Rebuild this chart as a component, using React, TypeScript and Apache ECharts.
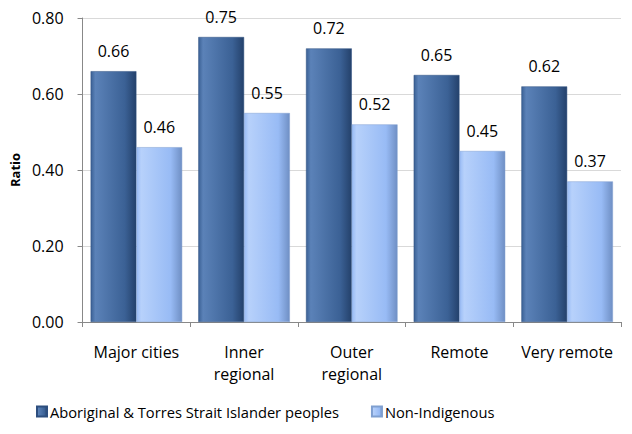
import React, { useEffect, useRef } from "react";
import * as echarts from "echarts";

const categories = ["Major cities", "Inner\nregional", "Outer\nregional", "Remote", "Very remote"];
const indigenous = [0.66, 0.75, 0.72, 0.65, 0.62];
const nonIndigenous = [0.46, 0.55, 0.52, 0.45, 0.37];
const seriesNames = ["Aboriginal & Torres Strait Islander peoples", "Non-Indigenous"];

const FONT = "'Open Sans', Lato, sans-serif";

const grad = (edge: string, mid: string, hi: string) =>
  new echarts.graphic.LinearGradient(0, 0, 1, 0, [
    { offset: 0, color: mid },
    { offset: 0.1, color: hi },
    { offset: 0.75, color: mid },
    { offset: 1, color: edge },
  ]);

export default function App() {
  const ref = useRef<HTMLDivElement>(null);
  useEffect(() => {
    if (!ref.current) return;
    const chart = echarts.init(ref.current, undefined, { renderer: "svg" });
    const label = {
      show: true,
      position: "top" as const,
      distance: 12,
      fontFamily: FONT,
      fontSize: 16,
      color: "#000",
      formatter: (p: any) => p.value.toFixed(2),
    };
    chart.setOption({
      animation: false,
      backgroundColor: "#fff",
      grid: { left: 81, right: 11, top: 18, bottom: 112, containLabel: false },
      legend: {
        top: 399,
        left: 31,
        icon: "rect",
        itemWidth: 10,
        itemHeight: 10,
        itemGap: 32,
        textStyle: { fontFamily: FONT, fontSize: 14.7, color: "#000", padding: [0, 0, 0, -2] },
        data: seriesNames,
      },
      xAxis: {
        type: "category",
        data: categories,
        axisLine: { lineStyle: { color: "#888" } },
        axisTick: { show: true, length: 5, lineStyle: { color: "#888" } },
        axisLabel: {
          interval: 0,
          fontFamily: FONT,
          fontSize: 16,
          color: "#000",
          margin: 19,
          lineHeight: 22,
        },
      },
      yAxis: {
        type: "value",
        min: 0,
        max: 0.8,
        interval: 0.2,
        name: "Ratio",
        nameLocation: "middle",
        nameGap: 60,
        nameTextStyle: { fontFamily: FONT, fontSize: 13, fontWeight: "bold", color: "#000" },
        axisLine: { show: true, lineStyle: { color: "#888" } },
        axisTick: { show: true, length: 5, lineStyle: { color: "#888" } },
        splitLine: { lineStyle: { color: "#d9d9d9" } },
        axisLabel: {
          fontFamily: FONT,
          fontSize: 16,
          color: "#000",
          margin: 19,
          formatter: (v: number) => v.toFixed(2),
        },
      },
      series: [
        {
          name: seriesNames[0],
          type: "bar",
          data: indigenous,
          barWidth: "42.5%",
          barGap: "0%",
          itemStyle: {
            color: grad("#24416b", "#3b6195", "#5b82b8"),
            borderColor: "#2d4e7e",
            borderWidth: 0.5,
          },
          label,
        },
        {
          name: seriesNames[1],
          type: "bar",
          data: nonIndigenous,
          barWidth: "42.5%",
          itemStyle: {
            color: grad("#6f8fc4", "#98bbf5", "#b7d1fb"),
            borderColor: "#7f9fd0",
            borderWidth: 0.5,
          },
          label,
        },
      ],
    });
    return () => chart.dispose();
  }, []);
  return <div ref={ref} style={{ width: 632, height: 434, margin: -8 }} />;
}
